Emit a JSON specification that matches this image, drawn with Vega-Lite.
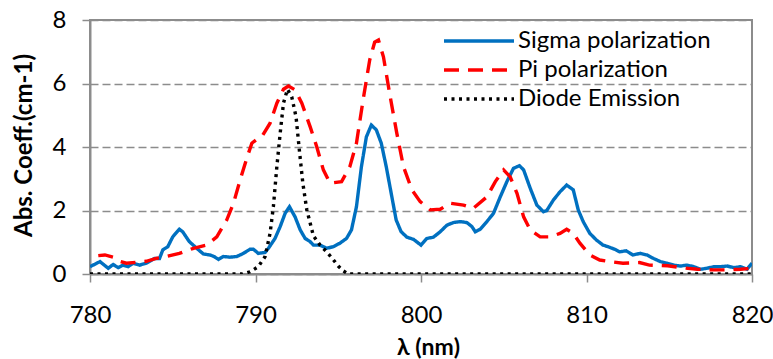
{
  "$schema": "https://vega.github.io/schema/vega-lite/v6.json",
  "width": 662,
  "height": 254,
  "autosize": {"type": "none"},
  "padding": {"left": 90, "top": 20, "right": 21, "bottom": 85},
  "background": "white",
  "config": {
    "font": "Lato",
    "view": {"stroke": "#8c8c8c", "strokeWidth": 2}
  },
  "data": {
    "values": [
      {"s": "S", "x": 780.0, "y": 0.23}, {"s": "S", "x": 780.6, "y": 0.39}, {"s": "S", "x": 781.1, "y": 0.18},
      {"s": "S", "x": 781.4, "y": 0.30}, {"s": "S", "x": 781.7, "y": 0.20}, {"s": "S", "x": 782.0, "y": 0.28},
      {"s": "S", "x": 782.3, "y": 0.23}, {"s": "S", "x": 782.6, "y": 0.34}, {"s": "S", "x": 783.0, "y": 0.28},
      {"s": "S", "x": 783.4, "y": 0.34}, {"s": "S", "x": 783.9, "y": 0.49}, {"s": "S", "x": 784.2, "y": 0.49},
      {"s": "S", "x": 784.4, "y": 0.76}, {"s": "S", "x": 784.7, "y": 0.86}, {"s": "S", "x": 785.0, "y": 1.17},
      {"s": "S", "x": 785.4, "y": 1.41}, {"s": "S", "x": 785.6, "y": 1.33}, {"s": "S", "x": 786.0, "y": 1.02},
      {"s": "S", "x": 786.45, "y": 0.81}, {"s": "S", "x": 786.85, "y": 0.63}, {"s": "S", "x": 787.25, "y": 0.60},
      {"s": "S", "x": 787.5, "y": 0.55}, {"s": "S", "x": 787.76, "y": 0.46}, {"s": "S", "x": 788.06, "y": 0.55},
      {"s": "S", "x": 788.46, "y": 0.53}, {"s": "S", "x": 788.87, "y": 0.55}, {"s": "S", "x": 789.27, "y": 0.65},
      {"s": "S", "x": 789.67, "y": 0.78}, {"s": "S", "x": 789.87, "y": 0.78}, {"s": "S", "x": 790.17, "y": 0.65},
      {"s": "S", "x": 790.58, "y": 0.68}, {"s": "S", "x": 790.78, "y": 0.81}, {"s": "S", "x": 791.18, "y": 1.12},
      {"s": "S", "x": 791.49, "y": 1.49}, {"s": "S", "x": 791.79, "y": 1.91}, {"s": "S", "x": 792.05, "y": 2.12},
      {"s": "S", "x": 792.39, "y": 1.80}, {"s": "S", "x": 792.7, "y": 1.39}, {"s": "S", "x": 793.0, "y": 1.12},
      {"s": "S", "x": 793.3, "y": 1.02}, {"s": "S", "x": 793.5, "y": 0.91}, {"s": "S", "x": 793.9, "y": 0.91},
      {"s": "S", "x": 794.3, "y": 0.81}, {"s": "S", "x": 794.7, "y": 0.86}, {"s": "S", "x": 795.1, "y": 0.97},
      {"s": "S", "x": 795.5, "y": 1.12}, {"s": "S", "x": 795.8, "y": 1.39}, {"s": "S", "x": 796.1, "y": 2.12},
      {"s": "S", "x": 796.4, "y": 3.38}, {"s": "S", "x": 796.7, "y": 4.32}, {"s": "S", "x": 797.0, "y": 4.69},
      {"s": "S", "x": 797.3, "y": 4.54}, {"s": "S", "x": 797.6, "y": 4.12}, {"s": "S", "x": 797.9, "y": 3.38},
      {"s": "S", "x": 798.2, "y": 2.54}, {"s": "S", "x": 798.5, "y": 1.70}, {"s": "S", "x": 798.8, "y": 1.33},
      {"s": "S", "x": 799.15, "y": 1.16}, {"s": "S", "x": 799.55, "y": 1.09}, {"s": "S", "x": 800.0, "y": 0.91},
      {"s": "S", "x": 800.35, "y": 1.12}, {"s": "S", "x": 800.75, "y": 1.16}, {"s": "S", "x": 801.16, "y": 1.33},
      {"s": "S", "x": 801.57, "y": 1.54}, {"s": "S", "x": 801.96, "y": 1.62}, {"s": "S", "x": 802.37, "y": 1.65},
      {"s": "S", "x": 802.77, "y": 1.62}, {"s": "S", "x": 803.08, "y": 1.49}, {"s": "S", "x": 803.28, "y": 1.33},
      {"s": "S", "x": 803.58, "y": 1.41}, {"s": "S", "x": 803.98, "y": 1.65}, {"s": "S", "x": 804.38, "y": 1.91},
      {"s": "S", "x": 804.79, "y": 2.43}, {"s": "S", "x": 805.19, "y": 2.91}, {"s": "S", "x": 805.59, "y": 3.33},
      {"s": "S", "x": 805.95, "y": 3.41}, {"s": "S", "x": 806.2, "y": 3.28}, {"s": "S", "x": 806.6, "y": 2.70},
      {"s": "S", "x": 807.0, "y": 2.17}, {"s": "S", "x": 807.4, "y": 1.96}, {"s": "S", "x": 807.6, "y": 2.00},
      {"s": "S", "x": 808.0, "y": 2.33}, {"s": "S", "x": 808.4, "y": 2.59}, {"s": "S", "x": 808.8, "y": 2.80},
      {"s": "S", "x": 809.2, "y": 2.65}, {"s": "S", "x": 809.5, "y": 2.02}, {"s": "S", "x": 809.8, "y": 1.65},
      {"s": "S", "x": 810.2, "y": 1.28}, {"s": "S", "x": 810.6, "y": 1.07}, {"s": "S", "x": 811.0, "y": 0.91},
      {"s": "S", "x": 811.3, "y": 0.86}, {"s": "S", "x": 811.7, "y": 0.78}, {"s": "S", "x": 812.0, "y": 0.70},
      {"s": "S", "x": 812.4, "y": 0.73}, {"s": "S", "x": 812.8, "y": 0.60}, {"s": "S", "x": 813.25, "y": 0.65},
      {"s": "S", "x": 813.65, "y": 0.60}, {"s": "S", "x": 814.05, "y": 0.49}, {"s": "S", "x": 814.46, "y": 0.39},
      {"s": "S", "x": 814.86, "y": 0.34}, {"s": "S", "x": 815.27, "y": 0.28}, {"s": "S", "x": 815.67, "y": 0.25},
      {"s": "S", "x": 816.08, "y": 0.28}, {"s": "S", "x": 816.48, "y": 0.23}, {"s": "S", "x": 816.88, "y": 0.15},
      {"s": "S", "x": 817.28, "y": 0.18}, {"s": "S", "x": 817.69, "y": 0.23}, {"s": "S", "x": 818.09, "y": 0.23},
      {"s": "S", "x": 818.5, "y": 0.25}, {"s": "S", "x": 818.9, "y": 0.20}, {"s": "S", "x": 819.3, "y": 0.23},
      {"s": "S", "x": 819.7, "y": 0.15}, {"s": "S", "x": 820.0, "y": 0.34},

      {"s": "P", "x": 780.5, "y": 0.58}, {"s": "P", "x": 780.9, "y": 0.60}, {"s": "P", "x": 781.4, "y": 0.53},
      {"s": "P", "x": 781.8, "y": 0.40}, {"s": "P", "x": 782.2, "y": 0.34}, {"s": "P", "x": 782.8, "y": 0.37},
      {"s": "P", "x": 783.4, "y": 0.40}, {"s": "P", "x": 784.0, "y": 0.49}, {"s": "P", "x": 784.6, "y": 0.55},
      {"s": "P", "x": 785.4, "y": 0.65}, {"s": "P", "x": 786.25, "y": 0.81}, {"s": "P", "x": 787.05, "y": 0.91},
      {"s": "P", "x": 787.66, "y": 1.17}, {"s": "P", "x": 788.26, "y": 1.70}, {"s": "P", "x": 788.67, "y": 2.23},
      {"s": "P", "x": 789.07, "y": 2.96}, {"s": "P", "x": 789.47, "y": 3.64}, {"s": "P", "x": 789.78, "y": 4.12},
      {"s": "P", "x": 790.1, "y": 4.25}, {"s": "P", "x": 790.38, "y": 4.32}, {"s": "P", "x": 790.88, "y": 4.75},
      {"s": "P", "x": 791.29, "y": 5.38}, {"s": "P", "x": 791.69, "y": 5.82}, {"s": "P", "x": 791.99, "y": 5.92},
      {"s": "P", "x": 792.39, "y": 5.80}, {"s": "P", "x": 792.8, "y": 5.38}, {"s": "P", "x": 793.3, "y": 4.64},
      {"s": "P", "x": 793.7, "y": 4.01}, {"s": "P", "x": 794.1, "y": 3.28}, {"s": "P", "x": 794.5, "y": 2.86},
      {"s": "P", "x": 795.2, "y": 2.91}, {"s": "P", "x": 795.7, "y": 3.38}, {"s": "P", "x": 796.1, "y": 4.12},
      {"s": "P", "x": 796.5, "y": 5.48}, {"s": "P", "x": 796.9, "y": 6.74}, {"s": "P", "x": 797.2, "y": 7.30},
      {"s": "P", "x": 797.43, "y": 7.37}, {"s": "P", "x": 797.73, "y": 6.84}, {"s": "P", "x": 798.14, "y": 5.58},
      {"s": "P", "x": 798.54, "y": 4.43}, {"s": "P", "x": 798.94, "y": 3.38}, {"s": "P", "x": 799.45, "y": 2.65},
      {"s": "P", "x": 799.95, "y": 2.28}, {"s": "P", "x": 800.56, "y": 2.02}, {"s": "P", "x": 801.16, "y": 2.04},
      {"s": "P", "x": 801.77, "y": 2.23}, {"s": "P", "x": 802.57, "y": 2.17}, {"s": "P", "x": 803.17, "y": 2.07},
      {"s": "P", "x": 803.98, "y": 2.43}, {"s": "P", "x": 804.49, "y": 2.91}, {"s": "P", "x": 804.99, "y": 3.28},
      {"s": "P", "x": 805.39, "y": 3.06}, {"s": "P", "x": 805.8, "y": 2.54}, {"s": "P", "x": 806.2, "y": 1.80},
      {"s": "P", "x": 806.6, "y": 1.39}, {"s": "P", "x": 807.2, "y": 1.17}, {"s": "P", "x": 807.8, "y": 1.17},
      {"s": "P", "x": 808.4, "y": 1.28}, {"s": "P", "x": 808.8, "y": 1.41}, {"s": "P", "x": 809.2, "y": 1.28},
      {"s": "P", "x": 809.6, "y": 0.97}, {"s": "P", "x": 810.2, "y": 0.60}, {"s": "P", "x": 810.8, "y": 0.44},
      {"s": "P", "x": 811.4, "y": 0.39}, {"s": "P", "x": 812.2, "y": 0.34}, {"s": "P", "x": 813.2, "y": 0.36},
      {"s": "P", "x": 813.8, "y": 0.28}, {"s": "P", "x": 814.9, "y": 0.26}, {"s": "P", "x": 815.7, "y": 0.20},
      {"s": "P", "x": 816.7, "y": 0.15}, {"s": "P", "x": 817.7, "y": 0.13}, {"s": "P", "x": 818.5, "y": 0.13},
      {"s": "P", "x": 819.3, "y": 0.15}, {"s": "P", "x": 820.0, "y": 0.18},

      {"s": "D", "x": 780.0, "y": 0}, {"s": "D", "x": 785.0, "y": 0}, {"s": "D", "x": 789.2, "y": 0},
      {"s": "D", "x": 789.67, "y": 0.07}, {"s": "D", "x": 790.17, "y": 0.23}, {"s": "D", "x": 790.58, "y": 0.55},
      {"s": "D", "x": 790.88, "y": 1.28}, {"s": "D", "x": 791.08, "y": 2.12}, {"s": "D", "x": 791.29, "y": 3.38},
      {"s": "D", "x": 791.49, "y": 4.43}, {"s": "D", "x": 791.69, "y": 5.38}, {"s": "D", "x": 791.93, "y": 5.82},
      {"s": "D", "x": 792.19, "y": 5.58}, {"s": "D", "x": 792.45, "y": 4.95}, {"s": "D", "x": 792.65, "y": 3.90},
      {"s": "D", "x": 792.86, "y": 2.86}, {"s": "D", "x": 793.1, "y": 2.02}, {"s": "D", "x": 793.5, "y": 1.20},
      {"s": "D", "x": 793.9, "y": 0.91}, {"s": "D", "x": 794.3, "y": 0.70}, {"s": "D", "x": 794.7, "y": 0.45},
      {"s": "D", "x": 795.0, "y": 0.25}, {"s": "D", "x": 795.3, "y": 0.10}, {"s": "D", "x": 795.6, "y": 0},
      {"s": "D", "x": 805.0, "y": 0}, {"s": "D", "x": 820.0, "y": 0}
    ]
  },
  "mark": {"type": "line", "strokeWidth": 3.4, "strokeCap": "butt", "clip": true},
  "encoding": {
    "x": {
      "field": "x", "type": "quantitative",
      "scale": {"domain": [780, 820], "nice": false, "zero": false},
      "axis": {
        "values": [780, 790, 800, 810, 820],
        "grid": false,
        "domainColor": "#8c8c8c", "domainWidth": 2,
        "tickColor": "#8c8c8c", "tickWidth": 1.5, "tickSize": 8,
        "labelFont": "Lato", "labelFontSize": 24, "labelColor": "#000000", "labelPadding": 21,
        "labelFlush": false,
        "title": "λ (nm)", "titleFont": "Lato", "titleFontSize": 23, "titleFontWeight": "bold", "titleColor": "#000000",
        "titleX": 338, "titleY": 73, "titleBaseline": "middle"
      }
    },
    "y": {
      "field": "y", "type": "quantitative",
      "scale": {"domain": [0, 8], "nice": false},
      "axis": {
        "values": [0, 2, 4, 6, 8],
        "grid": true, "gridColor": "#8c8c8c", "gridDash": [8, 4], "gridWidth": 1.5,
        "domainColor": "#8c8c8c", "domainWidth": 2,
        "tickColor": "#8c8c8c", "tickWidth": 1.5, "tickSize": 8,
        "labelFont": "Lato", "labelFontSize": 24, "labelColor": "#000000", "labelPadding": 16,
        "labelFlush": false,
        "title": "Abs. Coeff.(cm-1)", "titleFont": "Lato", "titleFontSize": 24, "titleFontWeight": "bold", "titleColor": "#000000",
        "titleX": -66, "titleY": 125, "titleBaseline": "middle", "titleAngle": -90
      }
    },
    "color": {
      "field": "s", "type": "nominal",
      "scale": {"domain": ["S", "P", "D"], "range": ["#0070C0", "#FF0000", "#000000"]},
      "legend": {
        "orient": "none", "legendX": 377, "legendY": 9, "title": null, "padding": 0,
        "symbolType": "M-5,0L5,0", "symbolSize": 196, "symbolStrokeWidth": 3.4,
        "labelFont": "Lato", "labelFontSize": 24, "labelColor": "#000000", "labelOffset": 27, "labelLimit": 400,
        "rowPadding": 5,
        "labelExpr": "{'S': 'Sigma polarization', 'P': 'Pi polarization', 'D': 'Diode Emission'}[datum.label]"
      }
    },
    "strokeDash": {
      "field": "s", "type": "nominal",
      "scale": {"domain": ["S", "P", "D"], "range": [[1, 0], [15, 9], [3, 4.5]]},
      "legend": {
        "orient": "none", "legendX": 377, "legendY": 9, "title": null, "padding": 0,
        "symbolType": "M-5,0L5,0", "symbolSize": 196, "symbolStrokeWidth": 3.4,
        "labelFont": "Lato", "labelFontSize": 24, "labelColor": "#000000", "labelOffset": 27, "labelLimit": 400,
        "rowPadding": 5,
        "labelExpr": "{'S': 'Sigma polarization', 'P': 'Pi polarization', 'D': 'Diode Emission'}[datum.label]"
      }
    }
  }
}
